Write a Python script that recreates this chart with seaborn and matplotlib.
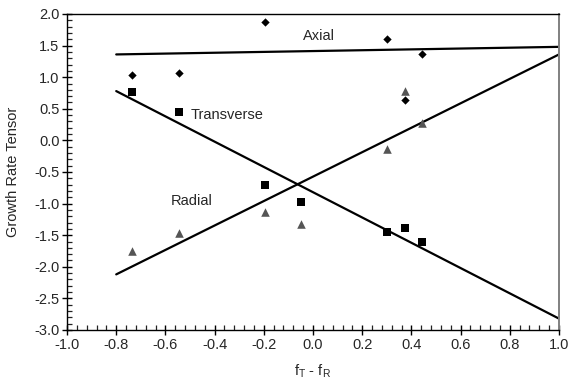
import matplotlib
matplotlib.use("Agg")
import matplotlib.pyplot as plt
from matplotlib.ticker import MultipleLocator
import seaborn as sns
import pandas as pd

# Measured growth-rate tensor components vs. orientation difference
axial_x = [-0.735, -0.545, -0.195, 0.30, 0.375, 0.444]
axial_y = [1.03, 1.06, 1.87, 1.60, 0.64, 1.37]

transverse_x = [-0.735, -0.545, -0.195, -0.05, 0.30, 0.375, 0.444]
transverse_y = [0.76, 0.45, -0.71, -0.97, -1.45, -1.38, -1.60]

radial_x = [-0.735, -0.545, -0.195, -0.05, 0.30, 0.375, 0.444]
radial_y = [-1.75, -1.47, -1.13, -1.33, -0.13, 0.78, 0.28]

# Model predictions
model_x = [-0.8, 1.0]
axial_model = [1.36, 1.48]
transverse_model = [0.78, -2.82]
radial_model = [-2.12, 1.36]

sns.set_theme(style="white")
plt.rcParams["font.family"] = ["Liberation Sans", "DejaVu Sans"]
plt.rcParams["mathtext.fontset"] = "custom"
plt.rcParams["mathtext.rm"] = "Liberation Sans"
plt.rcParams["mathtext.it"] = "Liberation Sans"

fig = plt.figure(figsize=(5.69, 3.80), dpi=100)
ax = fig.add_axes([0.1178, 0.1316, 0.8646, 0.8316])

lines = pd.DataFrame({
    "x": model_x * 3,
    "y": axial_model + transverse_model + radial_model,
    "comp": ["Axial"] * 2 + ["Transverse"] * 2 + ["Radial"] * 2,
})
for comp in ["Axial", "Transverse", "Radial"]:
    sub = lines[lines["comp"] == comp]
    sns.lineplot(data=sub, x="x", y="y", ax=ax, color="black", lw=1.6,
                 legend=False, zorder=2)

sns.scatterplot(x=axial_x, y=axial_y, ax=ax, marker="D", s=18,
                color="black", edgecolor="black", linewidth=0, zorder=3)
sns.scatterplot(x=transverse_x, y=transverse_y, ax=ax, marker="s", s=34,
                color="black", edgecolor="black", linewidth=0, zorder=3)
sns.scatterplot(x=radial_x, y=radial_y, ax=ax, marker="^", s=38,
                color="#555555", edgecolor="#555555", linewidth=0, zorder=3)

ax.text(-0.04, 1.65, "Axial", fontsize=10.5, ha="left", va="center")
ax.text(-0.496, 0.40, "Transverse", fontsize=10.5, ha="left", va="center")
ax.text(-0.577, -0.96, "Radial", fontsize=10.5, ha="left", va="center")

ax.set_xlim(-1.0, 1.0)
ax.set_ylim(-3.0, 2.0)
ax.xaxis.set_major_locator(MultipleLocator(0.2))
ax.xaxis.set_minor_locator(MultipleLocator(0.04))
ax.yaxis.set_major_locator(MultipleLocator(0.5))
ax.yaxis.set_minor_locator(MultipleLocator(0.1))
ax.set_xticklabels([f"{v:.1f}" for v in ax.get_xticks()])
ax.set_yticklabels([f"{v:.1f}" for v in ax.get_yticks()])

ax.tick_params(axis="both", which="major", direction="inout", length=7,
               width=1, color="black", labelsize=10.5, pad=2,
               bottom=True, left=True, top=False, right=False)
ax.tick_params(axis="both", which="minor", direction="in", length=3.5,
               width=0.9, color="#222222",
               bottom=True, left=True, top=False, right=False)

for side in ["left", "bottom", "top"]:
    ax.spines[side].set_color("black")
    ax.spines[side].set_linewidth(1.0)
ax.spines["right"].set_color("#808080")
ax.spines["right"].set_linewidth(1.4)

ax.set_xlabel(r"f$_\mathregular{T}$ - f$_\mathregular{R}$", fontsize=10.5, labelpad=8)
ax.set_ylabel("Growth Rate Tensor", fontsize=10.5)
ax.yaxis.set_label_coords(-0.095, 0.5)

fig.savefig("out.png", dpi=100)
